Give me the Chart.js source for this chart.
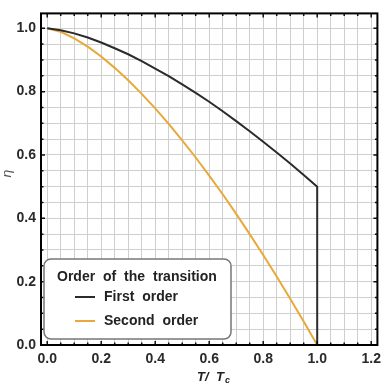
<!DOCTYPE html>
<html>
<head>
<meta charset="utf-8">
<script src="https://cdn.jsdelivr.net/npm/chart.js@4.4.1/dist/chart.umd.min.js"></script>
<style>
  html, body { margin: 0; padding: 0; background: #fff; }
  #wrap { width: 387px; height: 387px; position: relative; }
</style>
</head>
<body>
<div id="wrap"><canvas id="chart"></canvas></div>
<script>
// Data (T/Tc every 0.05)
const temps = [0, 0.05, 0.1, 0.15, 0.2, 0.25, 0.3, 0.35, 0.4, 0.45, 0.5,
               0.55, 0.6, 0.65, 0.7, 0.75, 0.8, 0.85, 0.9, 0.95, 1.0];
const firstOrder = [1.0, 0.994, 0.984, 0.971, 0.955, 0.937, 0.918, 0.896, 0.873, 0.849, 0.823,
                    0.796, 0.768, 0.738, 0.707, 0.675, 0.642, 0.608, 0.573, 0.537, 0.5];
const secondOrder = [1.0, 0.989, 0.968, 0.942, 0.911, 0.875, 0.836, 0.793, 0.747, 0.698, 0.646,
                     0.592, 0.535, 0.476, 0.414, 0.350, 0.284, 0.216, 0.146, 0.074, 0.0];
// jump of the first order curve at Tc
const jumpT = [1.0];
const jumpEta = [0.0];
const legendTitle = "Order of the transition";
const seriesNames = ["First order", "Second order"];
const seriesColors = ["#2b2b2b", "#e8a83a"];

const firstPts = temps.map((t, i) => ({ x: t, y: firstOrder[i] }))
  .concat(jumpT.map((t, i) => ({ x: t, y: jumpEta[i] })));
const secondPts = temps.map((t, i) => ({ x: t, y: secondOrder[i] }));

const isMajor = v => Math.abs(v / 0.2 - Math.round(v / 0.2)) < 1e-6;
const isGrid = v => Math.abs(v / 0.05 - Math.round(v / 0.05)) < 1e-6;
const FONT = "'Liberation Sans', Arial, sans-serif";

// frame, inner ticks, legend box and axis labels
const decor = {
  id: "decor",
  afterDatasetsDraw(chart) {
    const { ctx, chartArea: a, scales: { x, y } } = chart;
    ctx.save();
    // ticks
    ctx.strokeStyle = "#111";
    ctx.lineWidth = 1.5;
    for (let i = 0; i <= 24; i++) {
      const v = i * 0.05;
      const px = x.getPixelForValue(v);
      const len = isMajor(v) ? 4 : 2.5;
      ctx.beginPath();
      ctx.moveTo(px, a.bottom); ctx.lineTo(px, a.bottom - len);
      ctx.moveTo(px, a.top); ctx.lineTo(px, a.top + len);
      ctx.stroke();
    }
    for (let i = 0; i <= 20; i++) {
      const v = i * 0.05;
      const py = y.getPixelForValue(v);
      const len = isMajor(v) ? 4 : 2.5;
      ctx.beginPath();
      ctx.moveTo(a.left, py); ctx.lineTo(a.left + len, py);
      ctx.moveTo(a.right, py); ctx.lineTo(a.right - len, py);
      ctx.stroke();
    }
    // frame
    ctx.lineWidth = 2;
    ctx.strokeStyle = "#000";
    ctx.strokeRect(a.left, a.top, a.right - a.left, a.bottom - a.top);

    // legend
    const bx = 44, by = 259, bw = 187, bh = 80, r = 7;
    ctx.beginPath();
    ctx.roundRect(bx, by, bw, bh, r);
    ctx.fillStyle = "#fff";
    ctx.fill();
    ctx.lineWidth = 1.5;
    ctx.strokeStyle = "#777";
    ctx.stroke();
    ctx.fillStyle = "#222";
    ctx.textBaseline = "middle";
    ctx.textAlign = "left";
    ctx.font = "bold 14px " + FONT;
    if ("wordSpacing" in ctx) ctx.wordSpacing = "4px";
    ctx.fillText(legendTitle, 57, 277);
    const rows = [297, 321];
    seriesNames.forEach((name, i) => {
      ctx.strokeStyle = seriesColors[i];
      ctx.lineWidth = 2;
      ctx.beginPath();
      ctx.moveTo(75, rows[i]); ctx.lineTo(95, rows[i]);
      ctx.stroke();
      ctx.fillText(name, 104, rows[i] + 0.5);
    });
    if ("wordSpacing" in ctx) ctx.wordSpacing = "0px";

    // x axis title  T/ T_c
    ctx.fillStyle = "#222";
    ctx.font = "italic bold 13px " + FONT;
    ctx.fillText("T/", 197, 377);
    ctx.fillText("T", 216, 377);
    ctx.font = "italic bold 9px " + FONT;
    ctx.fillText("c", 225, 381);

    // y axis title  eta
    ctx.translate(8, 174);
    ctx.rotate(-Math.PI / 2);
    ctx.textAlign = "center";
    ctx.font = "italic 13px 'DejaVu Sans', sans-serif";
    ctx.fillStyle = "#555";
    ctx.fillText("η", 0, 0);
    ctx.restore();
  }
};

new Chart(document.getElementById("chart"), {
  type: "scatter",
  data: {
    datasets: [
      { label: seriesNames[0], data: firstPts, showLine: true, borderColor: seriesColors[0],
        borderWidth: 2, pointRadius: 0, tension: 0, order: 1 },
      { label: seriesNames[1], data: secondPts, showLine: true, borderColor: seriesColors[1],
        borderWidth: 2, pointRadius: 0, tension: 0, order: 2 }
    ]
  },
  options: {
    responsive: true,
    maintainAspectRatio: false,
    animation: false,
    layout: { padding: { top: 4, right: 4, left: 0, bottom: 0 } },
    plugins: { legend: { display: false }, tooltip: { enabled: false } },
    scales: {
      x: {
        type: "linear",
        min: -0.023,
        max: 1.223,
        afterFit: s => { s.height = 42; },
        afterBuildTicks: s => {
          const t = [];
          for (let i = 0; i <= 24; i++) t.push({ value: i * 0.05 });
          s.ticks = t;
        },
        grid: {
          drawTicks: false,
          color: ctx => (ctx.tick && isGrid(ctx.tick.value)) ? "#cfcfcf" : "rgba(0,0,0,0)",
          lineWidth: 1
        },
        border: { display: false },
        ticks: {
          padding: 6,
          autoSkip: false,
          maxRotation: 0,
          color: "#2a2a2a",
          font: { family: FONT, size: 14, weight: "bold" },
          callback: v => isMajor(v) ? v.toFixed(1) : ""
        }
      },
      y: {
        type: "linear",
        min: 0,
        max: 1.047,
        afterFit: s => { s.width = 41; },
        afterBuildTicks: s => {
          const t = [];
          for (let i = 0; i <= 20; i++) t.push({ value: i * 0.05 });
          s.ticks = t;
        },
        grid: {
          drawTicks: false,
          color: ctx => (ctx.tick && isGrid(ctx.tick.value)) ? "#cfcfcf" : "rgba(0,0,0,0)",
          lineWidth: 1
        },
        border: { display: false },
        ticks: {
          padding: 5,
          autoSkip: false,
          color: "#2a2a2a",
          font: { family: FONT, size: 14, weight: "bold" },
          callback: v => isMajor(v) ? v.toFixed(1) : ""
        }
      }
    }
  },
  plugins: [decor]
});
</script>
</body>
</html>
